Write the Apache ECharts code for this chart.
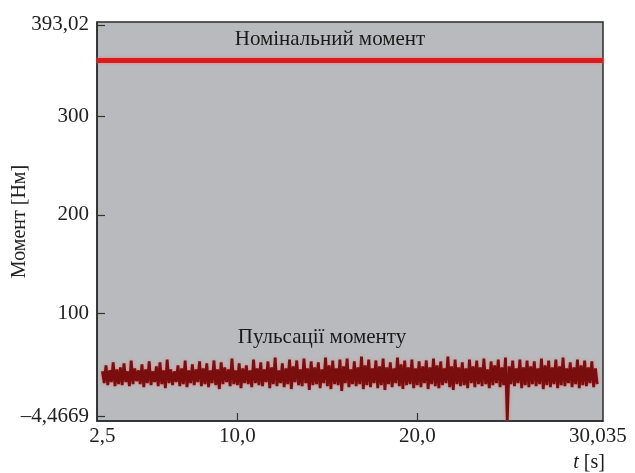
<!DOCTYPE html>
<html>
<head>
<meta charset="utf-8">
<script src="https://cdn.jsdelivr.net/npm/echarts@6/dist/echarts.min.js"></script>
<style>html,body{margin:0;padding:0;background:#fff;}#c{width:635px;height:473px;}</style>
</head>
<body>
<div id="c"></div>
<script>
// ---- data ----
const xTickValues = [2.5, 10, 20, 30.035];
const xTickLabels = ['2,5', '10,0', '20,0', '30,035'];
const xInnerTicks = [10, 20];
const yTickValues = [-4.4669, 100, 200, 300, 393.02];
const yTickLabels = ['\u20134,4669', '100', '200', '300', '393,02'];
const nominalTorque = 357;
const tStart = 2.5;
const tStep = 0.1;
const pulsation = [
 41,29,47,27,42,30,50,26,43,28,
 45,27,49,30,41,26,52,28,44,31,
 42,28,48,25,43,29,51,27,41,30,
 46,26,50,28,42,24,53,29,43,27,
 41,30,47,26,44,28,52,25,42,29,
 48,27,43,30,51,26,44,28,49,25,
 42,29,52,27,43,23,50,28,45,30,
 43,26,54,28,42,27,49,24,44,29,
 47,28,42,25,53,29,44,27,50,26,
 43,30,51,24,45,28,55,26,42,29,
 49,25,44,28,53,23,46,30,52,27,
 43,26,54,29,44,22,51,27,45,28,
 50,24,43,29,55,26,47,23,52,28,
 44,27,53,21,46,29,54,25,43,28,
 51,26,45,28,56,23,47,27,53,25,
 44,29,52,24,46,27,54,22,45,28,
 50,25,44,29,55,26,48,23,52,27,
 45,28,53,24,44,27,51,25,46,29,
 52,23,45,28,54,26,47,24,51,27,
 44,29,56,25,46,22,53,28,45,26,
 50,27,44,24,53,29,46,25,52,28,
 45,26,54,28,43,24,51,27,47,29,
 53,25,45,27,55,-9,46,28,52,26,
 44,29,53,24,45,27,52,25,46,28,
 51,26,44,28,54,23,47,27,52,25,
 45,28,53,24,46,27,55,26,44,29,
 50,25,45,28,53,24,47,27,52,26,
 45,29,51,25,44,28
];
const labelNominal = 'Номінальний момент';
const labelPulse = 'Пульсації моменту';
const yName = 'Момент [Нм]';

// ---- build ----
const pulseData = pulsation.map((v, i) => [+(tStart + i * tStep).toFixed(3), v]);
const serif = '"Liberation Serif", "DejaVu Serif", serif';
const FS = 21;

const chart = echarts.init(document.getElementById('c'), null, {renderer: 'canvas'});
chart.setOption({
  animation: false,
  backgroundColor: '#ffffff',
  grid: {
    left: 97, right: 32, top: 22, bottom: 52,
    containLabel: false, outerBoundsMode: 'none',
    show: true, backgroundColor: '#b8babd', borderColor: '#2b2b2b', borderWidth: 1.5
  },
  xAxis: {
    type: 'value', min: 2.2, max: 30.32,
    axisLine: {show: true, onZero: false, lineStyle: {color: '#2b2b2b', width: 1.5}},
    splitLine: {show: false},
    axisTick: {show: true, inside: true, length: 8, customValues: xInnerTicks, lineStyle: {color: '#333', width: 1.2}},
    axisLabel: {
      customValues: xTickValues, margin: 5, color: '#222', fontSize: FS, fontFamily: serif,
      showMinLabel: true, showMaxLabel: true,
      formatter: v => { const k = xTickValues.findIndex(x => Math.abs(x - v) < 1e-6); return k >= 0 ? xTickLabels[k] : ''; }
    }
  },
  yAxis: {
    type: 'value', min: -9.5, max: 396,
    name: yName, nameLocation: 'middle', nameGap: 67, nameRotate: 90, nameMoveOverlap: false,
    nameTextStyle: {color: '#222', fontSize: 20, fontFamily: serif},
    axisLine: {show: true, onZero: false, lineStyle: {color: '#2b2b2b', width: 1.5}},
    splitLine: {show: false},
    axisTick: {show: true, inside: true, length: 8, customValues: yTickValues, lineStyle: {color: '#333', width: 1.2}},
    axisLabel: {
      customValues: yTickValues, margin: 8, color: '#222', fontSize: FS, fontFamily: serif,
      formatter: v => { const k = yTickValues.findIndex(x => Math.abs(x - v) < 1e-6); return k >= 0 ? yTickLabels[k] : ''; }
    }
  },
  series: [{
    type: 'line',
    data: pulseData,
    showSymbol: false,
    lineStyle: {color: '#7a0e0e', width: 2.8, shadowColor: 'rgba(235,110,110,0.8)', shadowBlur: 3},
    markLine: {
      silent: true, symbol: 'none',
      label: {show: false},
      lineStyle: {color: '#dc1c1c', width: 5, type: 'solid', shadowColor: 'rgba(255,110,110,0.9)', shadowBlur: 3},
      data: [{yAxis: nominalTorque}]
    }
  }],
  graphic: [
    {type: 'text', style: {x: 330, y: 39, align: 'center', verticalAlign: 'middle', text: labelNominal, font: FS + 'px ' + serif, fill: '#1a1a1a'}},
    {type: 'text', style: {x: 322, y: 337, align: 'center', verticalAlign: 'middle', text: labelPulse, font: FS + 'px ' + serif, fill: '#1a1a1a'}},
    {type: 'text', style: {
      x: 589, y: 463, align: 'center', verticalAlign: 'middle',
      text: '{i|t} [s]', font: '20px ' + serif, fill: '#1a1a1a',
      rich: {i: {fontStyle: 'italic', fontSize: 20, fontFamily: serif, fill: '#1a1a1a'}}
    }}
  ]
});
</script>
</body>
</html>
